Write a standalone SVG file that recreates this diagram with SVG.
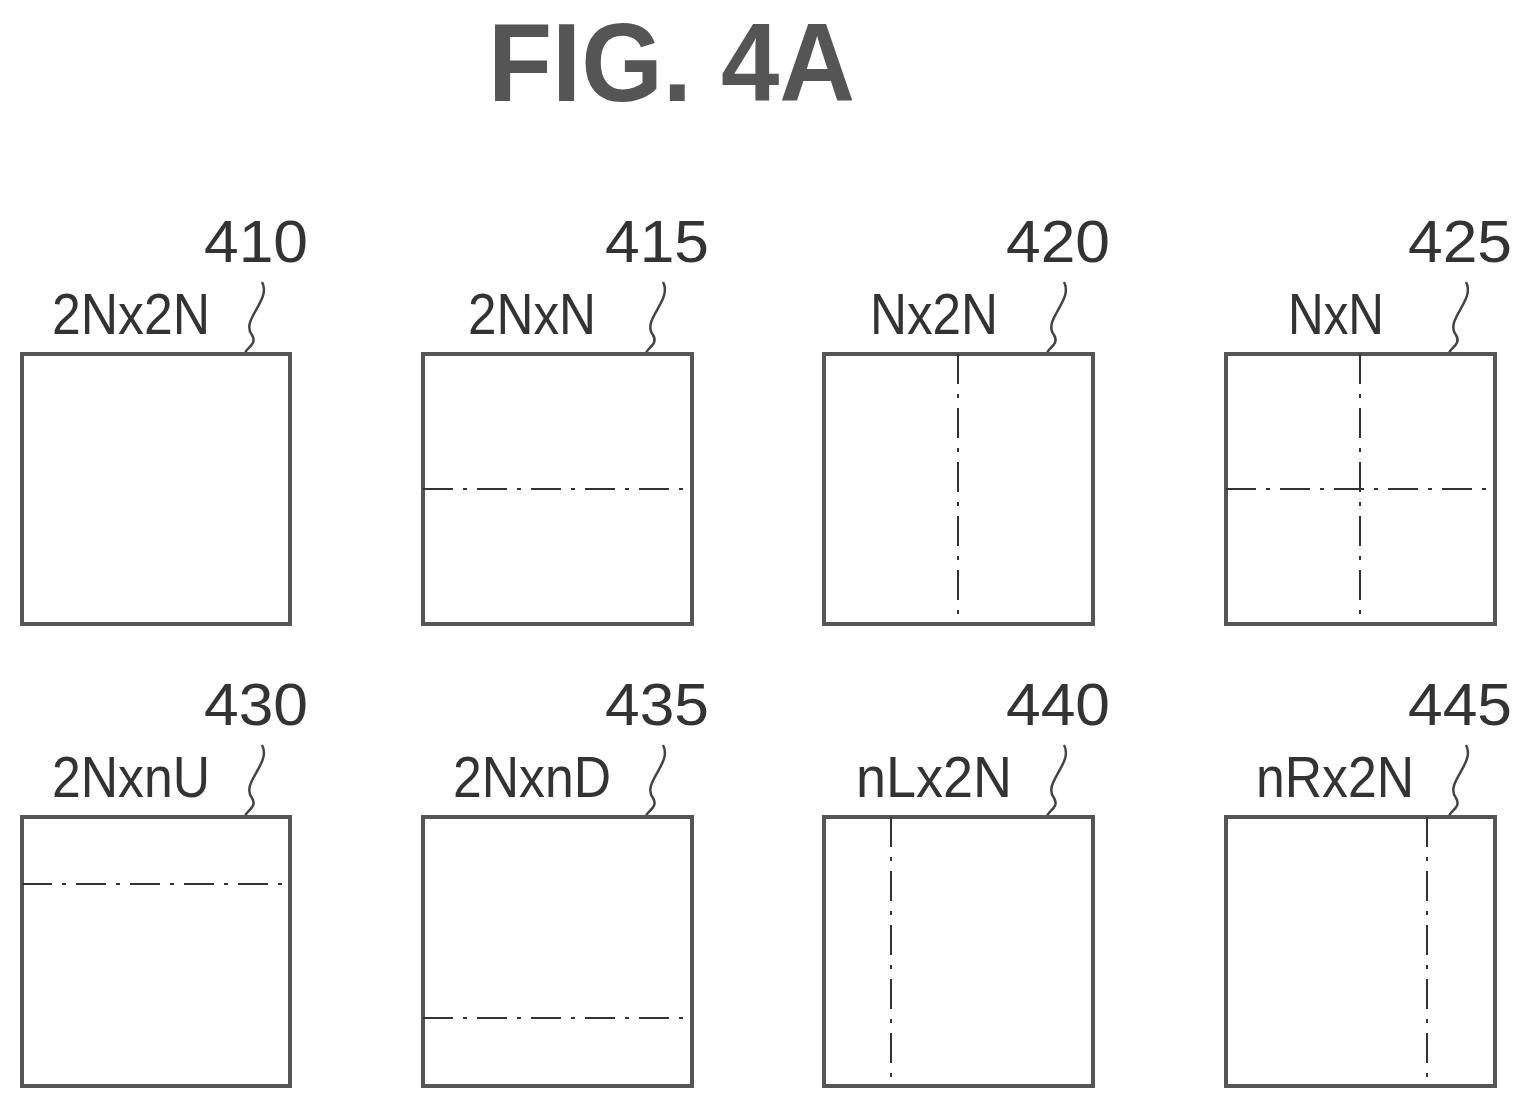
<svg xmlns="http://www.w3.org/2000/svg" width="1532" height="1108" viewBox="0 0 1532 1108">
<style>
.box{fill:#fff;stroke:#555;stroke-width:4}
.dash{fill:none;stroke:#333;stroke-width:2;stroke-dasharray:30,10,4,10}
.lead{fill:none;stroke:#444;stroke-width:2.5}
.lbl{font-family:"Liberation Sans",sans-serif;font-size:58px;fill:#333}
.num{font-family:"Liberation Sans",sans-serif;font-size:60px;fill:#333}
.title{font-family:"Liberation Sans",sans-serif;font-size:112px;fill:#555;font-weight:bold}
</style>
<rect width="1532" height="1108" fill="#fff"/>
<text class="title" x="488" y="101" textLength="367" lengthAdjust="spacingAndGlyphs">FIG. 4A</text>
<g id="connectors">
<path class="lead" d="M262,282 C272,300 240,320 252,335 C258,345 245,348 245,354"/>
<path class="lead" d="M663,282 C673,300 641,320 653,335 C659,345 646,348 646,354"/>
<path class="lead" d="M1064,282 C1074,300 1042,320 1054,335 C1060,345 1047,348 1047,354"/>
<path class="lead" d="M1466,282 C1476,300 1444,320 1456,335 C1462,345 1449,348 1449,354"/>
<path class="lead" d="M262,745 C272,763 240,783 252,798 C258,808 245,811 245,817"/>
<path class="lead" d="M663,745 C673,763 641,783 653,798 C659,808 646,811 646,817"/>
<path class="lead" d="M1064,745 C1074,763 1042,783 1054,798 C1060,808 1047,811 1047,817"/>
<path class="lead" d="M1466,745 C1476,763 1444,783 1456,798 C1462,808 1449,811 1449,817"/>
</g>
<g id="n410"><rect class="box" x="22" y="354" width="268" height="270"/><text class="lbl" x="52" y="334" textLength="158" lengthAdjust="spacingAndGlyphs">2Nx2N</text><text class="num" x="204" y="262" textLength="104" lengthAdjust="spacingAndGlyphs">410</text></g>
<g id="n415"><rect class="box" x="423" y="354" width="269" height="270"/><line class="dash" x1="423" y1="489" x2="692" y2="489"/><text class="lbl" x="468" y="334" textLength="128" lengthAdjust="spacingAndGlyphs">2NxN</text><text class="num" x="605" y="262" textLength="104" lengthAdjust="spacingAndGlyphs">415</text></g>
<g id="n420"><rect class="box" x="824" y="354" width="269" height="270"/><line class="dash" x1="958" y1="354" x2="958" y2="624"/><text class="lbl" x="870" y="334" textLength="128" lengthAdjust="spacingAndGlyphs">Nx2N</text><text class="num" x="1006" y="262" textLength="104" lengthAdjust="spacingAndGlyphs">420</text></g>
<g id="n425"><rect class="box" x="1226" y="354" width="269" height="270"/><line class="dash" x1="1360" y1="354" x2="1360" y2="624"/><line class="dash" x1="1226" y1="489" x2="1495" y2="489"/><text class="lbl" x="1288" y="334" textLength="96" lengthAdjust="spacingAndGlyphs">NxN</text><text class="num" x="1408" y="262" textLength="104" lengthAdjust="spacingAndGlyphs">425</text></g>
<g id="n430"><rect class="box" x="22" y="817" width="268" height="269"/><line class="dash" x1="22" y1="884" x2="290" y2="884"/><text class="lbl" x="52" y="797" textLength="158" lengthAdjust="spacingAndGlyphs">2NxnU</text><text class="num" x="204" y="725" textLength="104" lengthAdjust="spacingAndGlyphs">430</text></g>
<g id="n435"><rect class="box" x="423" y="817" width="269" height="269"/><line class="dash" x1="423" y1="1018" x2="692" y2="1018"/><text class="lbl" x="453" y="797" textLength="158" lengthAdjust="spacingAndGlyphs">2NxnD</text><text class="num" x="605" y="725" textLength="104" lengthAdjust="spacingAndGlyphs">435</text></g>
<g id="n440"><rect class="box" x="824" y="817" width="269" height="269"/><line class="dash" x1="891" y1="817" x2="891" y2="1086"/><text class="lbl" x="856" y="797" textLength="156" lengthAdjust="spacingAndGlyphs">nLx2N</text><text class="num" x="1006" y="725" textLength="104" lengthAdjust="spacingAndGlyphs">440</text></g>
<g id="n445"><rect class="box" x="1226" y="817" width="269" height="269"/><line class="dash" x1="1427" y1="817" x2="1427" y2="1086"/><text class="lbl" x="1256" y="797" textLength="158" lengthAdjust="spacingAndGlyphs">nRx2N</text><text class="num" x="1408" y="725" textLength="104" lengthAdjust="spacingAndGlyphs">445</text></g>
</svg>
